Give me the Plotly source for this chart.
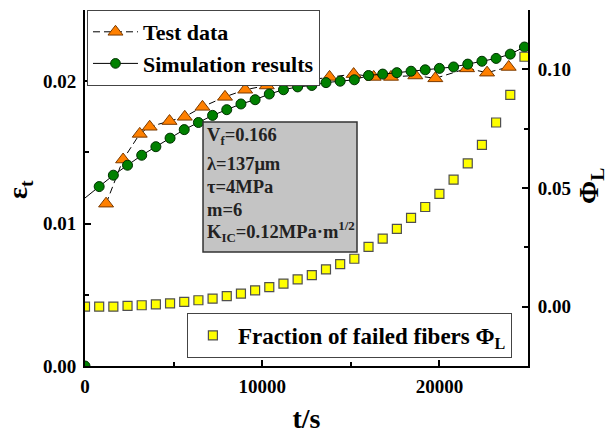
import plotly.graph_objects as go

# ---------------- data ----------------
test_t = [1190, 2150, 3090, 3650, 4770, 5630, 6630, 7900, 9040, 10260, 11490,
          12620, 13800, 15160, 16290, 17270, 18640, 19770, 21560, 22690, 23910]
test_eps = [0.0114, 0.0145, 0.0163, 0.0168, 0.0172, 0.0175, 0.0182, 0.0189,
            0.0194, 0.0197, 0.0199, 0.0201, 0.0203, 0.0205, 0.0203, 0.0203,
            0.0204, 0.0202, 0.0209, 0.0206, 0.0210]

sim_t = [0, 800, 1600, 2400, 3200, 4000, 4800, 5600, 6400, 7200, 8000, 8800,
         9600, 10400, 11200, 12000, 12800, 13600, 14400, 15200, 16000, 16800,
         17600, 18400, 19200, 20000, 20800, 21600, 22400, 23200, 24000, 24800]
sim_eps = [0.0118, 0.0126, 0.0134, 0.0141, 0.0148, 0.0154, 0.0160, 0.0166,
           0.0171, 0.0176, 0.0180, 0.0184, 0.0187, 0.0191, 0.0194, 0.0196,
           0.0197, 0.0199, 0.0200, 0.0201, 0.0204, 0.0205, 0.0206, 0.0207,
           0.0208, 0.0209, 0.0210, 0.0212, 0.0214, 0.0216, 0.0219, 0.0224]
sim_origin_t = [0]
sim_origin_eps = [0.0]

frac_t = [0, 800, 1600, 2400, 3200, 4000, 4800, 5600, 6400, 7200, 8000, 8800,
          9600, 10400, 11200, 12000, 12800, 13600, 14400, 15200, 16000, 16800,
          17600, 18400, 19200, 20000, 20800, 21600, 22400, 23200, 24000, 24800]
frac_phi = [0.0000, 0.0000, 0.0000, 0.0003, 0.0006, 0.0010, 0.0014, 0.0020,
            0.0027, 0.0034, 0.0044, 0.0055, 0.0069, 0.0082, 0.0097, 0.0115,
            0.0133, 0.0157, 0.0179, 0.0202, 0.0252, 0.0287, 0.0328, 0.0374,
            0.0420, 0.0475, 0.0535, 0.0604, 0.0682, 0.0776, 0.0892, 0.1053]

x_ticks = [0, 10000, 20000]
y_ticks = [0.00, 0.01, 0.02]
y2_ticks = [0.00, 0.05, 0.10]

param_lines = ["V<sub>f</sub>=0.166", "λ=137μm", "τ=4MPa", "m=6",
               "K<sub>IC</sub>=0.12MPa·m<sup>1/2</sup>"]

# ---------------- figure ----------------
FONT = "Liberation Serif, Times New Roman, serif"
fig = go.Figure()

sim_sizes = [0] + [10] * (len(sim_t) - 1)

fig.add_trace(go.Scatter(
    x=frac_t, y=frac_phi, mode="markers", name="Fraction of failed fibers Φ<sub>L</sub>",
    yaxis="y2", legend="legend2",
    marker=dict(symbol="square", size=9, color="#FFFF00", opacity=1,
                line=dict(color="#505050", width=1.2))))

fig.add_trace(go.Scatter(
    x=test_t, y=test_eps, mode="lines+markers", name="Test data",
    line=dict(color="black", width=1, dash="7px,4px"),
    marker=dict(symbol="triangle-up", size=13, color="#FF8000", opacity=1,
                line=dict(color="#7a3a00", width=1))))

fig.add_trace(go.Scatter(
    x=sim_t, y=sim_eps, mode="lines+markers", name="Simulation results",
    line=dict(color="black", width=1),
    marker=dict(symbol="circle", size=sim_sizes, sizemode="diameter",
                color="#008000", opacity=1,
                line=dict(color="#003000", width=1))))

fig.add_trace(go.Scatter(
    x=sim_origin_t, y=sim_origin_eps, mode="markers", showlegend=False,
    marker=dict(symbol="circle", size=10, color="#008000", opacity=1,
                line=dict(color="#003000", width=1))))

tickfont = dict(family=FONT, size=19, color="black", weight="bold")
titlefont = dict(family=FONT, size=28, color="black", weight="bold")

common = dict(ticks="inside", ticklen=6, tickwidth=1.5, tickcolor="black",
              showline=True, linecolor="black", linewidth=2, showgrid=False,
              zeroline=False, tickfont=tickfont, automargin=False)

fig.update_layout(
    width=613, height=434,
    margin=dict(l=85, r=85, t=10, b=68),
    paper_bgcolor="white", plot_bgcolor="white",
    font=dict(family=FONT, color="black"),
    xaxis=dict(range=[0, 25000], tickvals=x_ticks, ticktext=[str(v) for v in x_ticks],
               ticklabelstandoff=2,
               minor=dict(tickvals=[5000, 15000, 25000], ticks="inside", ticklen=4,
                          tickcolor="black", tickwidth=1.5),
               title=dict(text="t/s", font=titlefont, standoff=16), **common),
    yaxis=dict(range=[0, 0.025], tickvals=y_ticks, ticktext=["%.2f" % v for v in y_ticks],
               ticklabelstandoff=3,
               minor=dict(tickvals=[0.005, 0.015, 0.025], ticks="inside", ticklen=4,
                          tickcolor="black", tickwidth=1.5),
               **common),
    yaxis2=dict(range=[-0.025, 0.125], overlaying="y", side="right",
                tickvals=y2_ticks, ticktext=["%.2f" % v for v in y2_ticks],
                ticklabelstandoff=4,
                minor=dict(tickvals=[-0.025, 0.025, 0.075, 0.125], ticks="inside",
                           ticklen=4, tickcolor="black", tickwidth=1.5),
                **common),
    legend=dict(x=0.0045, y=1.0, xanchor="left", yanchor="top",
                bgcolor="white", bordercolor="#444", borderwidth=1,
                font=dict(family=FONT, size=22, color="black", weight="bold"),
                itemwidth=45, tracegroupgap=0, traceorder="normal"),
    legend2=dict(x=0.230, y=0.149, xanchor="left", yanchor="top",
                 bgcolor="white", bordercolor="#444", borderwidth=1,
                 font=dict(family=FONT, size=23, color="black", weight="bold"),
                 itemwidth=40),
    showlegend=True,
)

# y-axis titles as rotated annotations
fig.add_annotation(xref="paper", yref="paper", x=(19 - 85) / 443, y=(366 - 190) / 356,
                   xanchor="center", yanchor="middle", textangle=-90,
                   text="ε<sub>t</sub>", showarrow=False, font=titlefont)
fig.add_annotation(xref="paper", yref="paper", x=(590 - 85) / 443, y=(366 - 186) / 356,
                   xanchor="center", yanchor="middle", textangle=-90,
                   text="Φ<sub>L</sub>", showarrow=False, font=titlefont)

# parameter box
fig.add_shape(type="rect", xref="paper", yref="paper",
              x0=0.2664, x1=0.614, y0=0.3202, y1=0.6854,
              fillcolor="#C4C4C4", line=dict(color="#333", width=1.5), layer="above")

line_py = [136.7, 163.5, 186.7, 209.5, 231.7]
for txt, py in zip(param_lines, line_py):
    fig.add_annotation(xref="paper", yref="paper", x=(205 - 85) / 443,
                       y=(366 - py) / 356, xanchor="left", yanchor="middle",
                       text=txt, showarrow=False,
                       font=dict(family=FONT, size=18.5, color="#222", weight="bold"))

fig.write_html("out.html")
